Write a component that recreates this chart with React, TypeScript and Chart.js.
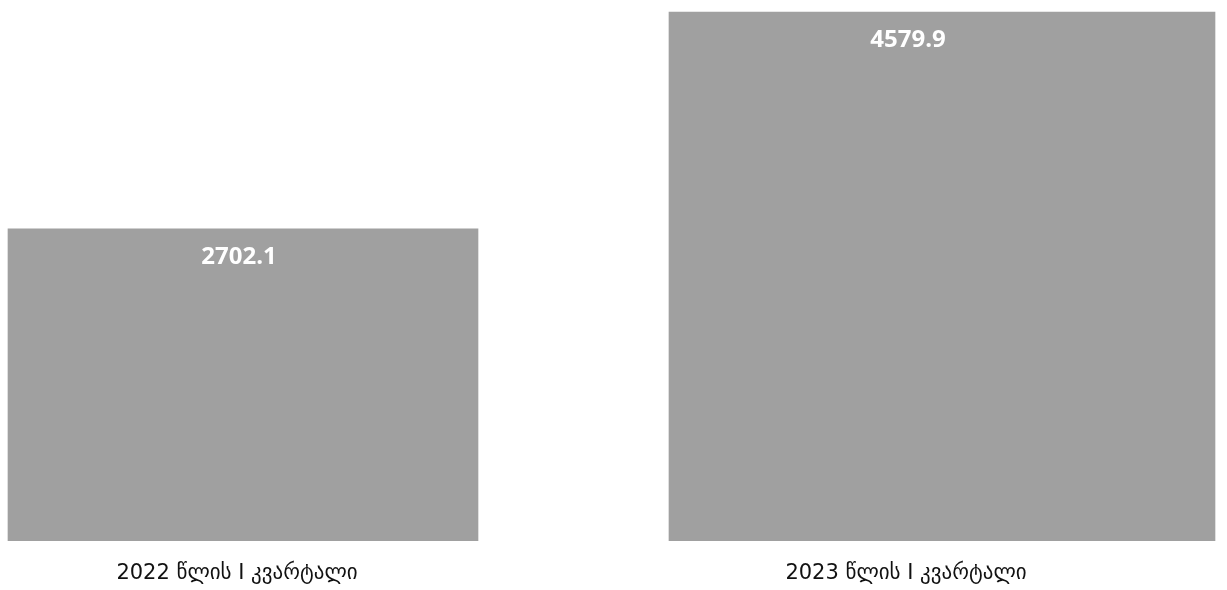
import React, { useEffect, useRef } from "react";
import { Chart, registerables } from "chart.js";

Chart.register(...registerables);

const categories = ["2022 წლის I კვარტალი", "2023 წლის I კვარტალი"];
const values = [2702.1, 4579.9];
const barColor = "#a0a0a0";

export default function App() {
  const ref = useRef<HTMLCanvasElement | null>(null);

  useEffect(() => {
    if (!ref.current) return;
    const valueLabels = {
      id: "valueLabels",
      afterDatasetsDraw(chart: any) {
        const ctx = chart.ctx;
        const xl = chart.scales.xl;
        ctx.save();
        ctx.fillStyle = "#ffffff";
        ctx.font = 'bold 24px "Open Sans", "Liberation Sans", sans-serif';
        ctx.textAlign = "center";
        ctx.textBaseline = "middle";
        chart.data.datasets.forEach((ds: any, i: number) => {
          const meta = chart.getDatasetMeta(i);
          const el = meta.data[0];
          if (!el) return;
          ctx.fillText(values[i].toFixed(1), xl.getPixelForValue(i) + 2, el.y + 28);
        });
        ctx.restore();
      },
    };

    const barWidths = [470, 546];
    const chart = new Chart(ref.current, {
      type: "bar",
      data: {
        datasets: values.map((v, i) => ({
          label: categories[i],
          data: [{ x: i, y: v }],
          backgroundColor: barColor,
          borderWidth: 0,
          grouped: false,
          barThickness: barWidths[i],
          xAxisID: "x",
          yAxisID: "y",
        })),
      },
      options: {
        animation: false,
        responsive: true,
        maintainAspectRatio: false,
        layout: { padding: 0 },
        plugins: { legend: { display: false }, tooltip: { enabled: false } },
        scales: {
          x: {
            type: "linear",
            min: -0.34764,
            max: 1.40773,
            offset: false,
            bounds: "data",
            grid: { offset: false },
            display: false,
          },
          xl: {
            type: "linear",
            position: "bottom",
            min: -0.35426,
            max: 1.47982,
            offset: false,
            bounds: "data",
            grid: { display: false, drawTicks: false, offset: false },
            border: { display: false },
            afterBuildTicks: (scale: any) => {
              scale.ticks = categories.map((_, i) => ({ value: i }));
            },
            afterFit: (scale: any) => {
              scale.height = 49;
            },
            ticks: {
              padding: 20,
              color: "#111111",
              autoSkip: false,
              maxRotation: 0,
              minRotation: 0,
              font: { size: 21, family: '"DejaVu Sans", sans-serif' },
              callback: (v: any) => categories[Math.round(Number(v))] ?? "",
            },
          },
          y: {
            min: 0,
            max: 4684,
            display: false,
          },
        },
      },
      plugins: [valueLabels],
    });
    return () => chart.destroy();
  }, []);

  return (
    <div style={{ position: "fixed", left: 0, top: 0, width: "1227px", height: "590px", background: "#fff" }}>
      <canvas ref={ref} />
    </div>
  );
}
